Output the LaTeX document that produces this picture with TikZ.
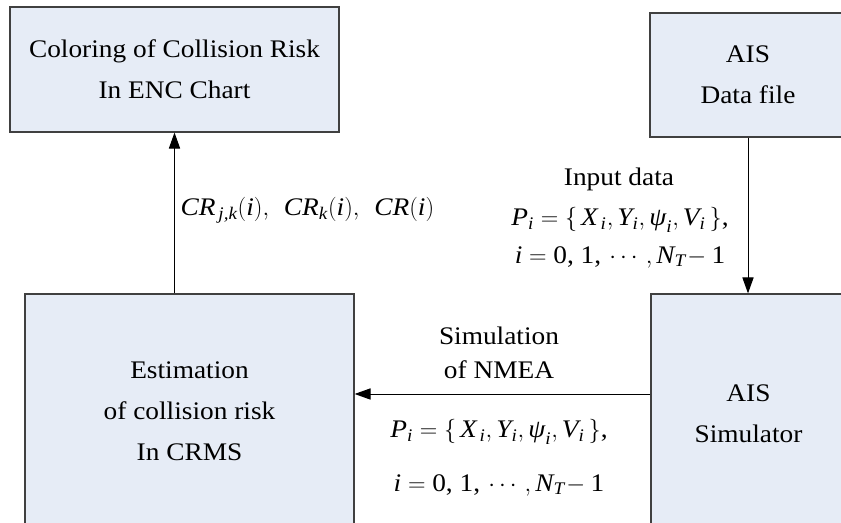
\documentclass[tikz,border=0pt]{standalone}
\usepackage{amsmath}
\usepackage{fontspec}
\setmainfont[FakeStretch=1.08]{Liberation Serif}
\usepackage{tikz}
\usetikzlibrary{arrows.meta}

\definecolor{boxfill}{RGB}{230,236,246}
\newcommand{\vi}[1]{\textit{#1}}

\begin{document}
\begin{tikzpicture}[x=0.025cm, y=-0.025cm,
    box/.style={draw=black!75, line width=0.8pt, fill=boxfill, align=center,
      font=\fontsize{18}{29}\selectfont, inner sep=0pt},
    arr/.style={-{Triangle[length=0.4cm, width=0.28cm]}, line width=0.7pt},
    lab/.style={font=\fontsize{18}{24}\selectfont, align=center, inner sep=1pt}]
          \useasboundingbox (0,0) rectangle (841,523);
          \clip (0,0) rectangle (841,523);

          % Blocks
          \node[box, minimum width=8.225cm, minimum height=3.125cm] (color) at (174.5,69.5)
            {Coloring of Collision Risk\\In ENC Chart};
          \node[box, minimum width=4.9cm, minimum height=3.1cm] (data) at (748,75)
            {AIS\\Data file};
          \node[box, minimum width=8.225cm, minimum height=5.85cm] (est) at (189.5,411)
            {Estimation\\of collision risk\\In CRMS};
          \node[box, minimum width=4.875cm, minimum height=6cm] (sim) at (748.5,414)
            {AIS\\Simulator};

          % Connectors
          \draw[arr] (data.south) -- (data.south |- sim.north);
          \draw[arr] (est.north -| color.south) -- (color.south);
          \draw[arr] ([yshift=0.5cm]sim.west) -- ([yshift=0.5cm]sim.west -| est.east);

          % Labels
          \node[lab, anchor=west] (crlab) at (179,210)
            {$\vi{CR}_{\,\vi{j,k}}(\vi{i}),\;\, \vi{CR}_{\vi{k}}(\vi{i}),\;\, \vi{CR}(\vi{i})$};
          \node[lab] (input) at (619,179) {Input data};
          \node[lab] (pin) at (620,220)
            {$\vi{P}_{\vi{i}}=\{\,\vi{X}_{\,\vi{i}}, \vi{Y}_{\vi{i}}, \vi{ψ}_{\vi{i}}, \vi{V}_{\vi{i}}\,\}$,};
          \node[lab, anchor=east] (iin) at (727,257)
            {$\vi{i}=\text{0, 1,}\,\cdots, \vi{N}_{\vi{T}}\!-\text{1}$};
          \node[lab] (nmea) at (499,353) {Simulation\\of NMEA};
          \node[lab] (pout) at (499,432)
            {$\vi{P}_{\vi{i}}=\{\,\vi{X}_{\,\vi{i}}, \vi{Y}_{\vi{i}}, \vi{ψ}_{\vi{i}}, \vi{V}_{\vi{i}}\,\}$,};
          \node[lab] (iout) at (499,485)
            {$\vi{i}=\text{0, 1,}\,\cdots, \vi{N}_{\vi{T}}\!-\text{1}$};
        \end{tikzpicture}
\end{document}
